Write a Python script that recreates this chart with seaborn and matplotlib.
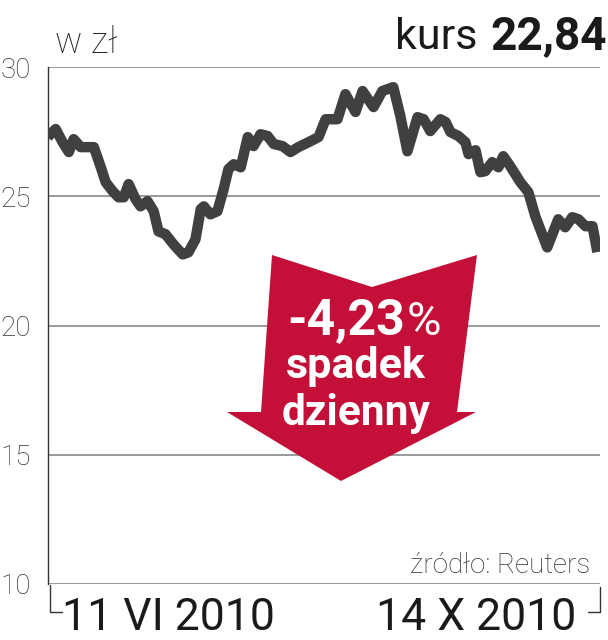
import matplotlib
matplotlib.use("Agg")
import matplotlib.pyplot as plt
import seaborn as sns
import pandas as pd
from matplotlib.patches import Polygon
from matplotlib.lines import Line2D

# ---- data ----
dni = [0, 1.8, 3.4, 4.8, 5.9, 7.5, 10.5, 12.0, 13.2, 14.8, 16.1, 17.3, 18.4, 20.0,
       21.1, 22.7, 24.1, 25.2, 26.8, 28.6, 30.7, 32.0, 33.6, 34.8, 35.5, 37.0, 38.6,
       40.0, 41.1, 42.3, 43.9, 45.5, 46.8, 48.4, 50.0, 51.4, 53.4, 55.2, 57.0, 59.3,
       61.6, 63.2, 65.9, 67.7, 70.0, 71.6, 74.1, 76.1, 78.6, 80.2, 81.8, 84.1, 85.5,
       87.0, 89.3, 90.5, 91.6, 93.4, 95.0, 95.7, 97.3, 98.4, 99.5, 101.1, 102.5,
       103.6, 105.2, 107.5, 109.3, 110.9, 113.6, 116.1, 117.7, 119.3, 120.7, 122.3,
       123.9, 125.0]
kurs = [27.29, 27.60, 27.09, 26.71, 27.21, 26.90, 26.90, 26.16, 25.54, 25.19, 24.96,
        24.96, 25.47, 24.88, 24.61, 24.81, 24.42, 23.64, 23.53, 23.14, 22.75, 22.83,
        23.33, 24.50, 24.61, 24.30, 24.42, 25.27, 26.05, 26.24, 26.12, 27.29, 26.94,
        27.40, 27.33, 27.02, 26.94, 26.71, 26.90, 27.09, 27.29, 27.98, 27.98, 28.95,
        28.26, 29.07, 28.45, 29.07, 29.22, 28.10, 26.74, 28.06, 27.98, 27.52, 27.98,
        27.87, 27.48, 27.33, 27.09, 26.63, 26.78, 25.93, 25.97, 26.32, 26.12, 26.55,
        26.16, 25.54, 25.16, 24.22, 23.02, 24.11, 23.80, 24.19, 24.11, 23.84, 23.84,
        22.84]
y_ticks = [10, 15, 20, 25, 30]
y_labels = ["10", "15", "20", "25", "30"]
data_od = "11 VI 2010"
data_do = "14 X 2010"
kurs_txt = "22,84"
zmiana = "-4,23"

df = pd.DataFrame({"dzien": dni, "kurs": kurs})

sns.set_theme(style="white")
plt.rcParams["font.family"] = ["Roboto", "DejaVu Sans"]

W, H = 608, 640
fig = plt.figure(figsize=(W / 100, H / 100), dpi=100)

def fx(x):
    return x / W

def fy(y):
    return 1 - y / H

ax = fig.add_axes([fx(47.7), fy(584), fx(600) - fx(47.7), fy(67) - fy(584)])

for v in y_ticks:
    ax.axhline(v, color="#9a9a9a", lw=1.4, zorder=1)

sns.lineplot(data=df, x="dzien", y="kurs", ax=ax, color="#404040", lw=7.5,
             solid_joinstyle="round", solid_capstyle="butt", zorder=5)

ax.set_xlim(0, 125.6)
ax.set_ylim(10, 30)
ax.set_xlabel("")
ax.set_ylabel("")
ax.set_xticks([])
ax.set_yticks(y_ticks)
ax.set_yticklabels(y_labels, fontsize=20, fontweight="light", color="#333333")
ax.tick_params(axis="y", length=0, pad=12)
for s in ["top", "right", "bottom"]:
    ax.spines[s].set_visible(False)
ax.spines["left"].set_color("#333333")
ax.spines["left"].set_linewidth(1.0)
ax.patch.set_alpha(0)

# brackets under the axis
for pts in ([(50, 585), (50, 612), (62, 612)], [(600, 587), (600, 612), (588, 612)]):
    xs = [fx(p[0]) for p in pts]
    ys = [fy(p[1]) for p in pts]
    fig.add_artist(Line2D(xs, ys, color="#333333", lw=1.0))

fig.text(fx(62), fy(630), data_od, fontsize=32, fontweight="normal", color="#1a1a1a",
         ha="left", va="baseline")
fig.text(fx(576), fy(630), data_do, fontsize=32, fontweight="normal", color="#1a1a1a",
         ha="right", va="baseline")

# header texts
fig.text(fx(55), fy(53), "w zł", fontsize=26, fontweight="light", color="#222222",
         ha="left", va="baseline")
fig.text(fx(607), fy(49), kurs_txt, fontsize=33, fontweight="bold", color="#1a1a1a",
         ha="right", va="baseline")
fig.text(fx(478), fy(49), "kurs", fontsize=31, color="#1a1a1a", ha="right", va="baseline")

fig.text(fx(590), fy(573), "źródło: Reuters", fontsize=20, fontweight="light",
         color="#333333", ha="right", va="baseline")

# red arrow
arrow = [(272, 255), (372, 287), (477, 255), (457, 412), (476, 412), (341, 481),
         (227, 412), (261, 412)]
poly = Polygon([(fx(x), fy(y)) for x, y in arrow], closed=True, facecolor="#c41038",
               edgecolor="none", transform=fig.transFigure, zorder=10)
fig.add_artist(poly)

fig.text(fx(405), fy(335), zmiana, fontsize=36, fontweight="bold", color="white",
         ha="right", va="baseline", zorder=11)
fig.text(fx(407), fy(335), "%", fontsize=34, fontweight="normal", color="white",
         ha="left", va="baseline", zorder=11)
fig.text(fx(356), fy(378), "spadek", fontsize=31, fontweight="bold", color="white",
         ha="center", va="baseline", zorder=11)
fig.text(fx(356), fy(425), "dzienny", fontsize=30.5, fontweight="bold", color="white",
         ha="center", va="baseline", zorder=11)

fig.savefig("out.png", dpi=100)
